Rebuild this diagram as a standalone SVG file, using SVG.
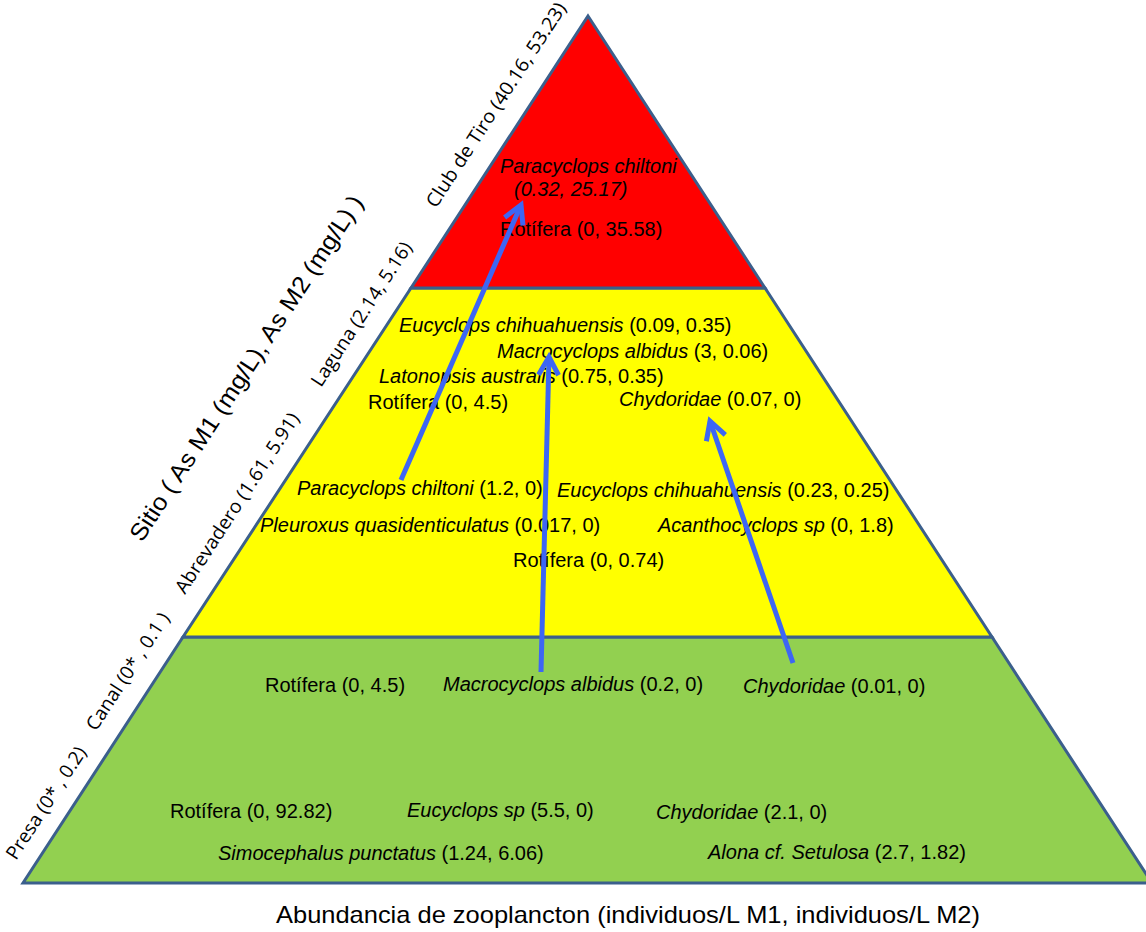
<svg xmlns="http://www.w3.org/2000/svg" width="1146" height="932" viewBox="0 0 1146 932">
<style>
.band{stroke:#3B5F8C;stroke-width:3;stroke-linejoin:miter}
.t{font-family:"Liberation Sans",Arial,sans-serif;font-size:20px;fill:#000}
.i{font-style:italic}
.lab{font-family:"Open Sans","DejaVu Sans",sans-serif;font-size:19px;fill:#000}
.big{font-family:"Liberation Sans",Arial,sans-serif;font-size:24px;fill:#000}
.arr{stroke:#3D66F4;stroke-width:5;fill:none;marker-end:url(#head)}
</style>
<defs>
<marker id="head" markerUnits="userSpaceOnUse" markerWidth="30" markerHeight="30" refX="20" refY="12" orient="auto" overflow="visible">
<path d="M2,2 L20,12 L2,22" fill="none" stroke="#3D66F4" stroke-width="5"/>
</marker>
</defs>
<rect width="1146" height="932" fill="#fff"/>
<g id="pyramid">
<polygon id="band-green" class="band" fill="#92D050" points="183,637 992,637 1152,883 23,883"/>
<polygon id="band-yellow" class="band" fill="#FFFF00" points="411,288 765,288 992,637 183,637"/>
<polygon id="band-red" class="band" fill="#FF0000" points="588,16 765,288 411,288"/>
</g>
<g id="site-labels">
<text class="lab" transform="translate(436,209) rotate(-56.9)" textLength="240" lengthAdjust="spacingAndGlyphs">Club de Tiro (40.16, 53.23)</text>
<text class="lab" transform="translate(321,388) rotate(-56.9)" textLength="168" lengthAdjust="spacingAndGlyphs">Laguna (2.14, 5.16)</text>
<text class="lab" transform="translate(185,595) rotate(-56.9)" textLength="211" lengthAdjust="spacingAndGlyphs">Abrevadero (1.61, 5.91)</text>
<text class="lab" transform="translate(96,732) rotate(-56.9)" textLength="136" lengthAdjust="spacingAndGlyphs">Canal (0* , 0.1 )</text>
<text class="lab" transform="translate(16,861) rotate(-56.9)" textLength="130" lengthAdjust="spacingAndGlyphs">Presa (0* , 0.2)</text>
<text class="big" transform="translate(142,543) rotate(-56.9)" textLength="407" lengthAdjust="spacingAndGlyphs">Sitio ( As M1 (mg/L), As M2 (mg/L) )</text>
</g>
<g id="node-red">
<text class="t i" x="500" y="173">Paracyclops chiltoni</text>
<text class="t i" x="514" y="196">(0.32, 25.17)</text>
<text class="t" x="500" y="236">Rotífera (0, 35.58)</text>
</g>
<g id="node-yellow">
<text class="t" x="399" y="332"><tspan class="i">Eucyclops chihuahuensis</tspan> (0.09, 0.35)</text>
<text class="t" x="497" y="358"><tspan class="i">Macrocyclops albidus</tspan> (3, 0.06)</text>
<text class="t" x="379" y="383"><tspan class="i">Latonopsis australis</tspan> (0.75, 0.35)</text>
<text class="t" x="368" y="409">Rotífera (0, 4.5)</text>
<text class="t" x="619" y="406"><tspan class="i">Chydoridae</tspan> (0.07, 0)</text>
<text class="t" x="297" y="495"><tspan class="i">Paracyclops chiltoni</tspan> (1.2, 0)</text>
<text class="t" x="557" y="497"><tspan class="i">Eucyclops chihuahuensis</tspan> (0.23, 0.25)</text>
<text class="t" x="260" y="532"><tspan class="i">Pleuroxus quasidenticulatus</tspan> (0.017, 0)</text>
<text class="t" x="658" y="532"><tspan class="i">Acanthocyclops sp</tspan> (0, 1.8)</text>
<text class="t" x="513" y="567">Rotífera (0, 0.74)</text>
</g>
<g id="node-green">
<text class="t" x="265" y="692">Rotífera (0, 4.5)</text>
<text class="t" x="443" y="691"><tspan class="i">Macrocyclops albidus</tspan> (0.2, 0)</text>
<text class="t" x="743" y="693"><tspan class="i">Chydoridae</tspan> (0.01, 0)</text>
<text class="t" x="170" y="818">Rotífera (0, 92.82)</text>
<text class="t" x="407" y="817"><tspan class="i">Eucyclops sp</tspan> (5.5, 0)</text>
<text class="t" x="656" y="819"><tspan class="i">Chydoridae</tspan> (2.1, 0)</text>
<text class="t" x="218" y="860"><tspan class="i">Simocephalus punctatus</tspan> (1.24, 6.06)</text>
<text class="t" x="708" y="859"><tspan class="i">Alona cf. Setulosa</tspan> (2.7, 1.82)</text>
</g>
<g id="connectors">
<line class="arr" x1="401" y1="480" x2="521" y2="205"/>
<line class="arr" x1="541" y1="672" x2="549" y2="357"/>
<line class="arr" x1="793" y1="663" x2="710" y2="421"/>
</g>
<g id="axis-title">
<text class="big" x="276" y="923" textLength="704" lengthAdjust="spacingAndGlyphs">Abundancia de zooplancton (individuos/L M1, individuos/L M2)</text>
</g>
</svg>
